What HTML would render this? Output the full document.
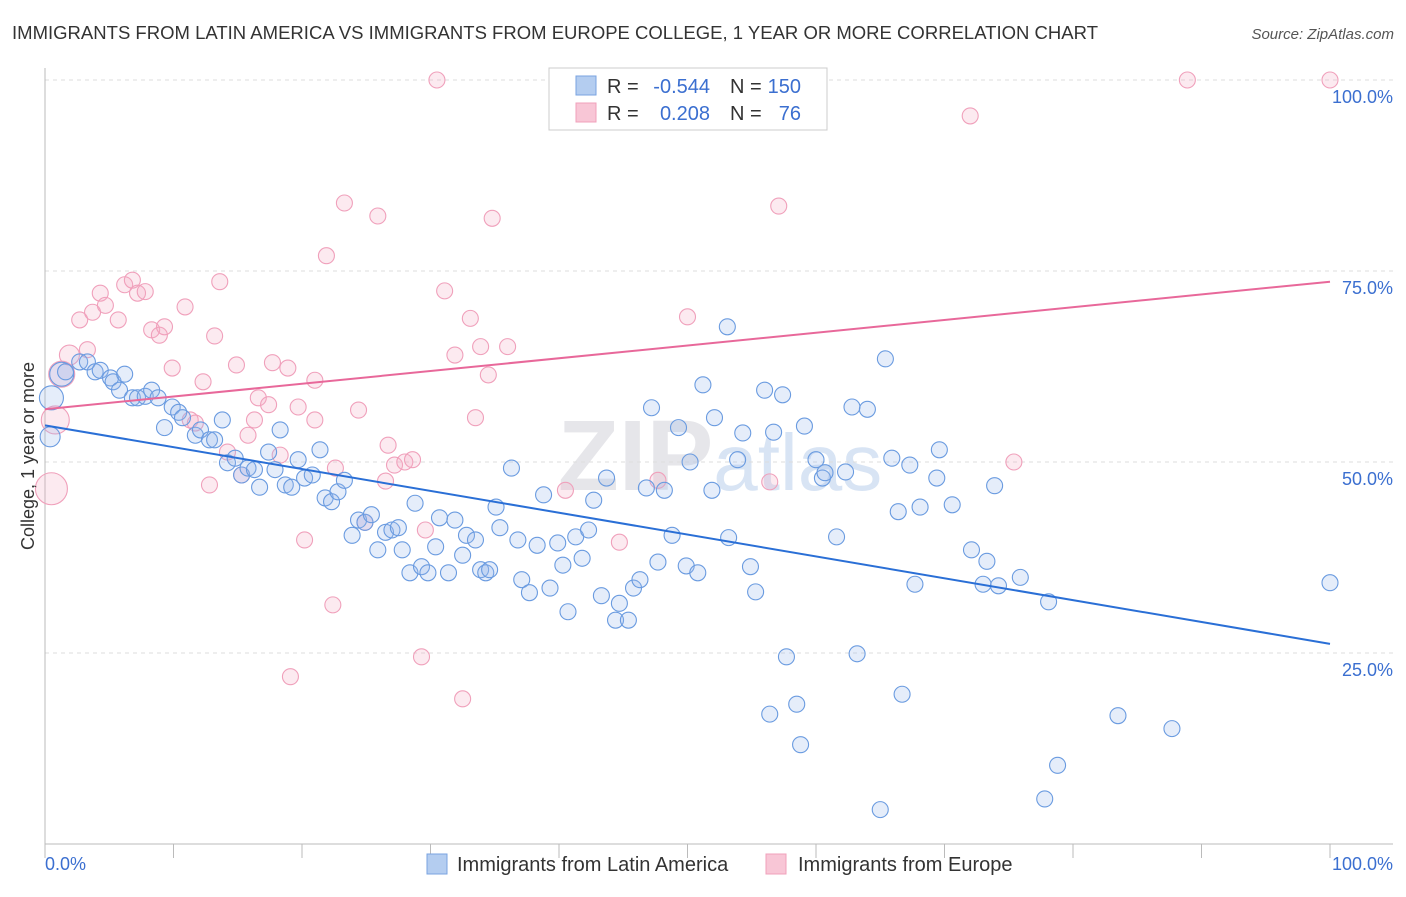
<!DOCTYPE html>
<html><head><meta charset="utf-8"><style>
body{margin:0;background:#fff;font-family:"Liberation Sans",sans-serif;}
svg text{font-family:"Liberation Sans",sans-serif;}
</style></head><body>
<svg width="1406" height="892">
<text x="12" y="39" font-size="18.5" fill="#333" textLength="1086">IMMIGRANTS FROM LATIN AMERICA VS IMMIGRANTS FROM EUROPE COLLEGE, 1 YEAR OR MORE CORRELATION CHART</text>
<text x="1394" y="39" font-size="15" fill="#555" font-style="italic" text-anchor="end">Source: ZipAtlas.com</text>
<text x="720" y="490" font-size="100" fill="#e6e6ea" text-anchor="middle" font-weight="bold">ZIP<tspan fill="#d8e4f4" font-weight="normal" font-size="80">atlas</tspan></text>
<g id="grid"></g>
<g id="axes"></g>
<g id="pts"></g>
<g id="lines"></g>
<text transform="translate(34,456) rotate(-90)" font-size="18" fill="#333" text-anchor="middle">College, 1 year or more</text>
<text x="45" y="870" font-size="18" fill="#3b6fd0">0.0%</text>
<text x="1393" y="870" font-size="18" fill="#3b6fd0" text-anchor="end">100.0%</text>
<g>
<rect x="549" y="68" width="278" height="62" fill="#fff" stroke="#ccc"/>
<rect x="576" y="76" width="20" height="19" fill="#b4cdf0" stroke="#7aa3e0"/>
<rect x="576" y="103" width="20" height="19" fill="#f8c6d6" stroke="#f0a0bb"/>
<text x="607" y="93" font-size="20" fill="#333">R =</text>
<text x="710" y="93" font-size="20" fill="#3b6fd0" text-anchor="end">-0.544</text>
<text x="730" y="93" font-size="20" fill="#333">N =</text>
<text x="801" y="93" font-size="20" fill="#3b6fd0" text-anchor="end">150</text>
<text x="607" y="120" font-size="20" fill="#333">R =</text>
<text x="710" y="120" font-size="20" fill="#3b6fd0" text-anchor="end">0.208</text>
<text x="730" y="120" font-size="20" fill="#333">N =</text>
<text x="801" y="120" font-size="20" fill="#3b6fd0" text-anchor="end">76</text>
</g>
<g>
<rect x="427" y="854" width="20" height="20" fill="#b4cdf0" stroke="#7aa3e0"/>
<text x="457" y="871" font-size="20" fill="#333">Immigrants from Latin America</text>
<rect x="766" y="854" width="20" height="20" fill="#f8c6d6" stroke="#f0a0bb"/>
<text x="798" y="871" font-size="20" fill="#333">Immigrants from Europe</text>
</g>
</svg>
<script>
const yTicks=[25,50,75,100];
const yTickLabels=["25.0%","50.0%","75.0%","100.0%"];
const blueX=[0.5,0.4,1.3,1.6,2.7,3.3,3.9,4.3,5.1,5.3,5.8,6.2,6.8,7.2,7.8,8.3,8.8,9.3,9.9,10.4,10.7,11.7,12.1,12.8,13.2,13.8,14.2,14.8,15.3,15.8,16.3,16.7,17.4,17.9,18.3,18.7,19.2,19.7,20.2,20.8,21.4,21.8,22.3,22.8,23.3,23.9,24.4,24.9,25.4,25.9,26.5,27.0,27.5,27.8,28.4,28.8,29.3,29.8,30.4,30.7,31.4,31.9,32.5,32.8,33.5,33.9,34.3,34.6,35.1,35.4,36.3,36.8,37.1,37.7,38.3,38.8,39.3,39.9,40.3,40.7,41.3,41.8,42.3,42.7,43.3,43.7,44.4,44.7,45.4,45.8,46.3,46.8,47.2,47.7,48.2,48.8,49.3,49.9,50.2,50.8,51.2,51.9,52.1,53.2,53.1,53.9,54.3,54.9,55.3,56.0,56.4,56.7,57.4,57.7,58.5,58.8,59.1,60.0,60.5,60.7,61.6,62.3,62.8,63.2,64.0,65.0,65.4,65.9,66.4,66.7,67.3,67.7,68.1,69.4,69.6,70.6,72.1,73.0,73.3,74.2,73.9,75.9,78.1,77.8,78.8,83.5,87.7,100];
const blueY=[58.4,53.3,61.5,61.8,63.1,63.1,61.8,62.0,61.0,60.5,59.4,61.5,58.4,58.4,58.6,59.4,58.4,54.5,57.2,56.5,55.8,53.5,54.2,52.9,52.9,55.5,49.9,50.5,48.3,49.2,49.0,46.7,51.3,49.0,54.2,47.0,46.7,50.3,47.9,48.3,51.6,45.3,44.8,46.1,47.6,40.4,42.4,42.1,43.1,38.5,40.8,41.1,41.4,38.5,35.5,44.6,36.3,35.5,38.9,42.7,35.5,42.4,37.8,40.4,39.8,35.9,35.5,35.9,44.1,41.4,49.2,39.8,34.6,32.9,39.1,45.7,33.5,39.4,36.5,30.4,40.2,37.4,41.1,45.0,32.5,47.9,29.3,31.5,29.3,33.5,34.6,46.6,57.1,36.9,46.3,40.4,54.5,36.4,50.0,35.5,60.1,46.3,55.8,40.1,67.7,50.3,53.8,36.3,33.0,59.4,17.0,53.9,58.8,24.5,18.3,13.0,54.7,50.3,47.9,48.6,40.2,48.7,57.2,24.9,56.9,4.5,63.5,50.5,43.5,19.6,49.6,34.0,44.1,47.9,51.6,44.4,38.5,34.0,37.0,33.8,46.9,34.9,31.7,5.9,10.3,16.8,15.1,34.2];
const blueSize=[12,10,12];
const pinkX=[0.5,0.8,1.3,1.9,2.7,3.3,3.7,4.3,4.7,5.7,6.2,6.8,7.2,7.8,8.3,8.9,9.3,9.9,10.9,11.3,11.7,12.3,12.8,13.2,13.6,14.2,14.9,15.3,15.8,16.3,16.6,17.4,17.7,18.3,18.9,19.1,19.7,20.2,21.0,21.0,21.9,22.4,22.6,23.3,24.4,24.9,25.9,26.5,26.7,27.2,28.0,28.6,29.3,29.6,30.5,31.1,31.9,32.5,33.1,33.5,33.9,34.5,34.8,36.0,40.5,44.7,47.7,50.0,56.4,57.1,72.0,75.4,88.9,100];
const pinkY=[46.5,55.5,61.5,64.0,68.6,64.7,69.6,72.1,70.5,68.6,73.2,73.8,72.1,72.3,67.3,66.6,67.7,62.3,70.3,55.5,55.1,60.5,47.0,66.5,73.6,51.3,62.7,48.3,53.5,55.5,58.4,57.5,63.0,50.9,62.3,21.9,57.2,39.8,60.7,55.5,77.0,31.3,49.2,83.9,56.8,42.1,82.2,47.5,52.2,49.6,50.0,50.3,24.5,41.1,100,72.4,64.0,19.0,68.8,55.8,65.1,61.4,81.9,65.1,46.3,39.5,47.6,69.0,47.4,83.5,95.3,50.0,100,100];
const pinkSize=[16,14,13,10];
const blueTrend=[54.8,26.2];
const pinkTrend=[56.9,73.6];
const NS='http://www.w3.org/2000/svg';
const X0=45,X1=1330,YB=844,YT=80;
function sx(v){return X0+(X1-X0)*v/100;}
function sy(v){return YB-(YB-YT)*v/100;}
function mk(t,a,p){const e=document.createElementNS(NS,t);for(const k in a)e.setAttribute(k,a[k]);p.appendChild(e);return e;}
const grid=document.getElementById('grid');
yTicks.forEach((t,i)=>{
 const l=mk('line',{x1:X0,x2:1393,y1:sy(t),y2:sy(t),stroke:'#ddd','stroke-dasharray':'4,4'},grid);
 
 
 const tx=mk('text',{x:1393,y:sy(t)+23,'font-size':18,fill:'#3b6fd0','text-anchor':'end'},grid);
 tx.textContent=yTickLabels[i];
 
 
});
const ax=document.getElementById('axes');
const xa=mk('line',{x1:X0,x2:1393,y1:YB,y2:YB,stroke:'#bbb'},ax);


const ya=mk('line',{x1:X0,x2:X0,y1:68,y2:YB,stroke:'#bbb'},ax);


for(let i=0;i<=10;i++){
 const t=mk('line',{x1:sx(i*10),x2:sx(i*10),y1:YB,y2:YB+14,stroke:'#bbb'},ax);
 
 
}
const pts=document.getElementById('pts');
pinkX.forEach((x,i)=>{
 const c=mk('circle',{cx:sx(x),cy:sy(pinkY[i]),r:pinkSize[i]||8,fill:'rgba(245,170,195,0.25)',stroke:'#f0a0bb','stroke-width':1.1},pts);
 
 
});
blueX.forEach((x,i)=>{
 const c=mk('circle',{cx:sx(x),cy:sy(blueY[i]),r:blueSize[i]||8,fill:'rgba(150,185,235,0.25)',stroke:'#6a9be0','stroke-width':1.1},pts);
 
 
});
const ln=document.getElementById('lines');
const bl=mk('line',{x1:sx(0),y1:sy(blueTrend[0]),x2:sx(100),y2:sy(blueTrend[1]),stroke:'#2a6fd6','stroke-width':2},ln);


const pl=mk('line',{x1:sx(0),y1:sy(pinkTrend[0]),x2:sx(100),y2:sy(pinkTrend[1]),stroke:'#e8689a','stroke-width':2},ln);


</script>
</body></html>
